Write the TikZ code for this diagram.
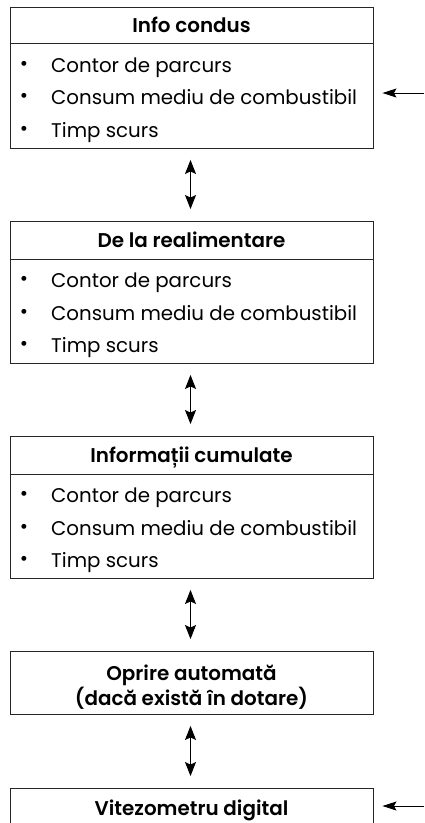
\documentclass[tikz,border=0pt]{standalone}
\usepackage{fontspec}
\setmainfont{Poppins}[BoldFont={Poppins SemiBold}]
\usetikzlibrary{arrows.meta}
\begin{document}
\begin{tikzpicture}[x=1pt,y=-1pt,
  box/.style={draw=black!85,line width=0.9pt,minimum width=363pt,inner sep=0pt,rectangle},
  ttl/.style={font=\fontsize{19.9}{23}\selectfont\bfseries,anchor=center,inner sep=0pt,text height=17pt,text depth=2pt},
  item/.style={font=\fontsize{19.8}{23}\selectfont,anchor=west,inner sep=0pt,text height=16pt,text depth=2pt},
  bul/.style={font=\fontsize{20}{22}\selectfont,anchor=center,inner sep=0pt,text height=13pt,text depth=2pt},
  dbl/.style={{Stealth[length=14pt,width=11pt,inset=2.5pt]}-{Stealth[length=14pt,width=11pt,inset=2.5pt]},line width=0.9pt,shorten <=11.5pt,shorten >=11.5pt},
  sgl/.style={-{Stealth[length=14pt,width=9pt,inset=2.5pt]},line width=0.9pt,shorten >=9pt}]
\useasboundingbox (0,0) rectangle (424,823);
\clip (0,0) rectangle (424,823);
% box 1
\node[box,minimum height=141pt] (b1) at (191.5,77.5) {};
\draw[draw=black!85,line width=0.9pt] (b1.west |- 0,43) coordinate (s1a) -- (b1.east |- 0,43) coordinate (s1b);
\node[ttl] (t1) at (191.5,25) {Info condus};
\foreach \y/\t [count=\i] in {65/Contor de parcurs,97/Consum mediu de combustibil,130/Timp scurs}{
  \node[bul] (b1d\i) at (24,\y) {•};
  \node[item] (b1i\i) at (51,\y) {\t};
}
% box 2
\node[box,minimum height=142pt] (b2) at (191.5,292) {};
\draw[draw=black!85,line width=0.9pt] (b2.west |- 0,259) -- (b2.east |- 0,259);
\node[ttl] (t2) at (191.5,240) {De la realimentare};
\foreach \y/\t [count=\i] in {280/Contor de parcurs,313/Consum mediu de combustibil,345/Timp scurs}{
  \node[bul] (b2d\i) at (24,\y) {•};
  \node[item] (b2i\i) at (51,\y) {\t};
}
% box 3
\node[box,minimum height=142pt] (b3) at (191.5,507) {};
\draw[draw=black!85,line width=0.9pt] (b3.west |- 0,474) -- (b3.east |- 0,474);
\node[ttl] (t3) at (191.5,455) {Informații cumulate};
\foreach \y/\t [count=\i] in {495/Contor de parcurs,528/Consum mediu de combustibil,560/Timp scurs}{
  \node[bul] (b3d\i) at (24,\y) {•};
  \node[item] (b3i\i) at (51,\y) {\t};
}
% box 4
\node[box,minimum height=63pt] (b4) at (191.5,682.5) {};
\node[ttl] (t4a) at (191.5,672.5) {Oprire automată};
\node[ttl] (t4b) at (191.5,697.5) {(dacă există în dotare)};
% box 5
\node[box,minimum height=60pt] (b5) at (191.5,818) {};
\node[ttl] (t5) at (191.5,808) {Vitezometru digital};
% arrows
\draw[dbl] (b1.south -| 190.5,0) -- (b2.north -| 190.5,0);
\draw[dbl] (b2.south -| 190.5,0) -- (b3.north -| 190.5,0);
\draw[dbl] (b3.south -| 190.5,0) -- (b4.north -| 190.5,0);
\draw[dbl] (b4.south -| 190.5,0) -- (b5.north -| 190.5,0);
\coordinate (r1) at (424,93);
\coordinate (r2) at (424,806);
\draw[sgl] (r1) -- (b1.east |- r1);
\draw[sgl] (r2) -- (b5.east |- r2);
\end{tikzpicture}
\end{document}
